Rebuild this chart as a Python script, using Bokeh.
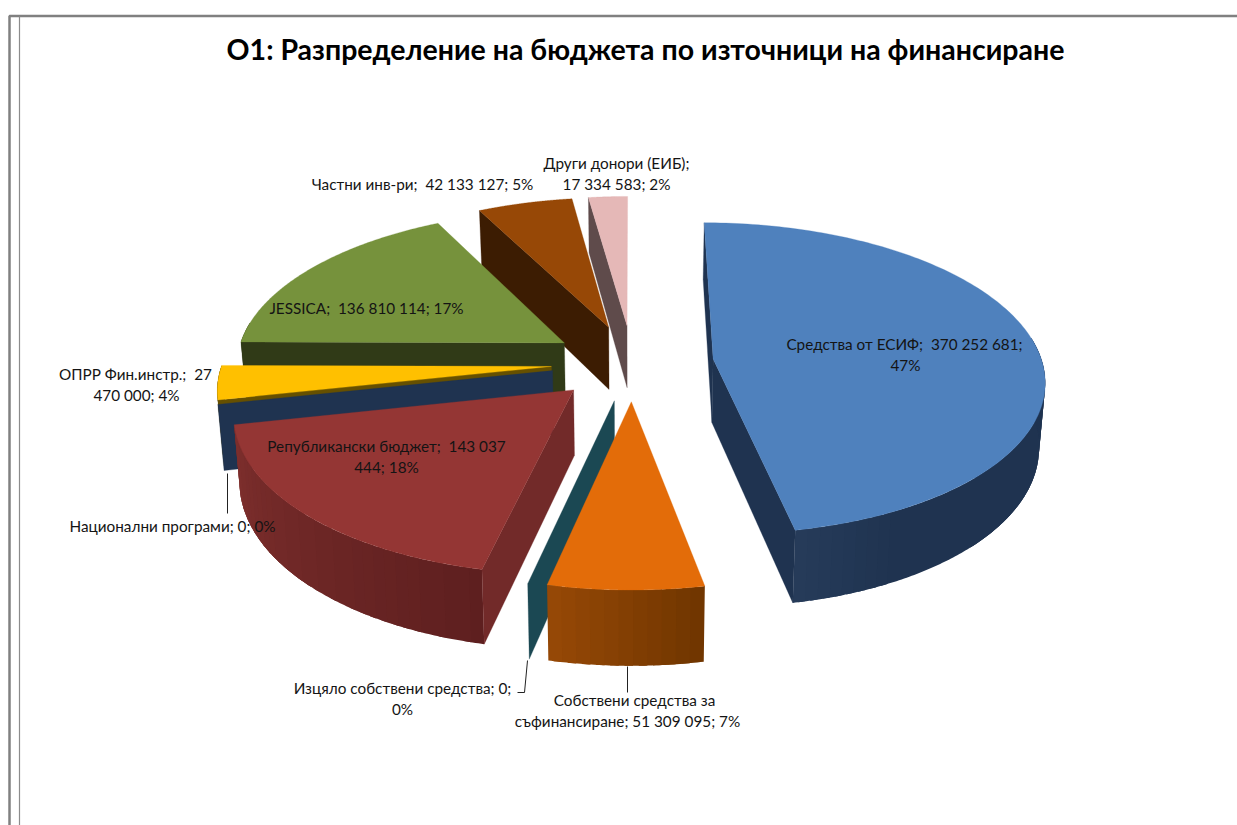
import numpy as np
from bokeh.plotting import figure
from bokeh.models import Range1d, ColumnDataSource
from bokeh.core.properties import value
from bokeh.embed import file_html
from bokeh.resources import INLINE

TITLE = "О1: Разпределение на бюджета по източници на финансиране"
names = ["Средства от ЕСИФ", "Собствени средства за съфинансиране", "Изцяло собствени средства",
         "Републикански бюджет", "Национални програми", "ОПРР Фин.инстр.", "JESSICA",
         "Частни инв-ри", "Други донори (ЕИБ)"]
values = [370252681, 51309095, 0, 143037444, 0, 27470000, 136810114, 42133127, 17334583]
top_colors = ["#4f81bd", "#e36c09", "#1b4853", "#943634", "#1f3350", "#ffc000", "#76923c", "#974806", "#e5b8b7"]
wall_colors = ["#1f3350", "#713600", "#1b4853", "#722a29", "#1f3350", "#665000", "#303a17", "#3c1c02", "#5f4b4b"]
rim_stops = [[(0, "#1f3350"), (.9, "#1f3350"), (1, "#263b5a")],
             [(0, "#6f3500"), (1, "#974906")],
             None,
             [(0, "#5e1f1f"), (1, "#7e2f2d")],
             None,
             [(0, "#665000"), (1, "#665000")],
             [(0, "#303a17"), (1, "#303a17")],
             [(0, "#3c1c02"), (1, "#3c1c02")],
             [(0, "#5f4b4b"), (1, "#5f4b4b")]]
NB = "\u00a0"
# label lines: text, centre x, centre y
label_text = [f"Средства от ЕСИФ;{NB} 370 252 681;", "47%",
              "Собствени средства за", "съфинансиране; 51 309 095; 7%",
              "Изцяло собствени средства; 0;", "0%",
              f"Републикански бюджет;{NB} 143 037", "444; 18%",
              "Национални програми; 0; 0%",
              f"ОПРР Фин.инстр.;{NB} 27", "470 000; 4%",
              f"JESSICA;{NB} 136 810 114; 17%",
              f"Частни инв-ри;{NB} 42 133 127; 5%",
              "Други донори (ЕИБ);", "17 334 583; 2%"]
label_x = [904, 905, 634, 627, 402, 402, 386, 386, 172, 135, 136, 366, 422, 616, 616]
label_y = [343, 364, 699, 720, 687, 708, 445, 466, 525, 373, 394, 307, 183, 162, 183]

# projection of the exploded 3-D pie
CX, CY, A, B, D, P, E = 632, 362, 329, 154, 64, 0.125, 0.247


def proj(X, Y, Z=0.0):
    X, Y = np.asarray(X, float), np.asarray(Y, float)
    s = 1 / (1 + P * Y)
    return CX + X * A * s * (1 - .015 * Z), CY - Y * B * s + Z * D * s


def hex_rgb(h):
    return np.array([int(h[i:i + 2], 16) for i in (1, 3, 5)], float)


def stop_color(stops, t):
    ts = [a for a, _ in stops]
    rgb = [hex_rgb(c) for _, c in stops]
    col = [np.interp(t, ts, [c[i] for c in rgb]) for i in range(3)]
    return "#%02x%02x%02x" % tuple(int(round(v)) for v in col)


p = figure(width=1237, height=825, x_range=Range1d(0, 1237), y_range=Range1d(825, 0),
           x_axis_type=None, y_axis_type=None, toolbar_location=None, output_backend="svg",
           min_border=0, outline_line_color=None, background_fill_color="white")
p.grid.visible = False

xs, ys, fc, la = [], [], [], []


def add(px, py, color, line_alpha=1.0):
    xs.append(list(map(float, px)))
    ys.append(list(map(float, py)))
    fc.append(color)
    la.append(line_alpha)


vals = np.array(values, float)
edges = np.concatenate([[0], np.cumsum(vals)]) / vals.sum() * 2 * np.pi
geom = []
for i in range(len(vals)):
    a0, a1 = edges[i], edges[i + 1]
    mid = (a0 + a1) / 2
    geom.append((a0, a1, E * np.sin(mid), E * np.cos(mid)))


def wall(i, ang):
    a0, a1, ox, oy = geom[i]
    X = np.array([ox, ox + np.sin(ang), ox + np.sin(ang), ox])
    Y = np.array([oy, oy + np.cos(ang), oy + np.cos(ang), oy])
    Z = np.array([0, 0, 1, 1])
    px, py = proj(X, Y, Z)
    add(px, py, wall_colors[i])


def rim_band(i, ang0, ang1, color):
    a0, a1, ox, oy = geom[i]
    th = np.linspace(ang0, ang1, max(2, int(np.degrees(ang1 - ang0)) * 2 + 2))
    X, Y = ox + np.sin(th), oy + np.cos(th)
    tx, ty = proj(X, Y, 0)
    bx, by = proj(X, Y, 1)
    add(np.r_[tx, bx[::-1]], np.r_[ty, by[::-1]], color, 0.0)


def draw_slice(i, walls):
    a0, a1, ox, oy = geom[i]
    if a1 > a0:
        lo, hi = np.radians(82), np.radians(278)
        n = max(2, int(np.degrees(a1 - a0) / 2.0))
        cols = [stop_color(rim_stops[i], (k + .5) / n) for k in range(n)]
        # fine sweep at the sides of the pie, where the rim's outline is its envelope
        for s0, s1 in ((lo, np.radians(135)), (np.radians(225), hi)):
            s0, s1 = max(s0, a0), min(s1, a1)
            for ang in np.arange(s0, s1, np.radians(0.4)):
                k = min(n - 1, int((ang - a0) / (a1 - a0) * n))
                rim_band(i, ang, min(ang + np.radians(0.8), s1), cols[k])
        # each band runs under the next, so no seam shows
        for k in range(n):
            b0 = a0 + (a1 - a0) * k / n
            b1 = a0 + (a1 - a0) * min(n, k + 1.6) / n
            b0c, b1c = max(b0, lo), min(b1, hi)
            if b1c > b0c:
                if k + 1 < n and cols[k + 1] == cols[k]:
                    continue
                j = k
                while j > 0 and cols[j - 1] == cols[k]:
                    j -= 1
                start = max(a0 + (a1 - a0) * j / n, lo)
                rim_band(i, start, b1c, cols[k])
    for ang in walls:
        wall(i, ang)
    if a1 > a0:
        th = np.linspace(a0, a1, 160)
        X = np.r_[ox, ox + np.sin(th)]
        Y = np.r_[oy, oy + np.cos(th)]
        px, py = proj(X, Y, 0)
        add(px, py, top_colors[i])


# back to front
draw_slice(8, [geom[8][0]])
draw_slice(7, [geom[7][0]])
draw_slice(6, [geom[6][0]])
draw_slice(5, [geom[5][0]])
draw_slice(4, [geom[4][0]])
draw_slice(3, [geom[3][0]])
draw_slice(0, [geom[0][0], geom[0][1]])
draw_slice(2, [geom[2][0]])
draw_slice(1, [])

p.patches(xs="xs", ys="ys", fill_color="fc", line_color="fc", line_alpha="la", line_width=0.3,
          source=ColumnDataSource(dict(xs=xs, ys=ys, fc=fc, la=la)))

# sheet frame
p.line([1237, 9, 9], [15.5, 15.5, 825], line_color="#808080", line_width=2.5)
p.line([19, 19], [16, 825], line_color="#8c8c8c", line_width=1.2)

# leader lines
p.multi_line([[227, 227], [527, 524, 517], [627, 627]],
             [[473, 513], [660, 692, 692], [666, 692]],
             line_color="#222222", line_width=1)

p.text(label_x, label_y, text=label_text, text_font=value("Lato"), text_font_size="15.3px",
       text_color="#141414", text_align="center", text_baseline="middle")
p.text([645], [48], text=[TITLE], text_font=value("Lato"), text_font_size="28.5px",
       text_font_style="bold", text_color="#000000", text_align="center", text_baseline="middle")

open("out.html", "w").write(file_html(p, INLINE))
